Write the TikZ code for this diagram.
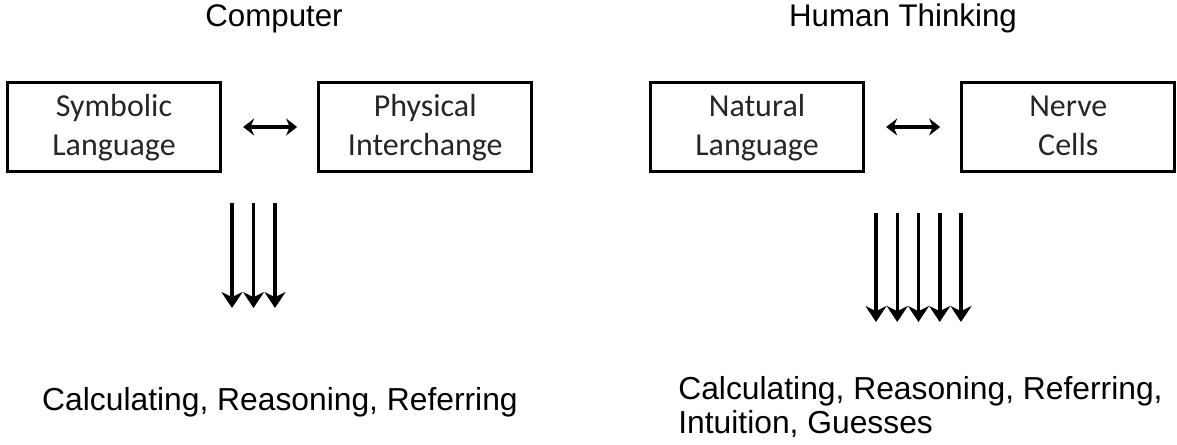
\documentclass[tikz,border=0pt]{standalone}
\usepackage{fontspec}
\usepackage{tikz}
\usetikzlibrary{positioning}
\usetikzlibrary{arrows.meta}
\newfontfamily\arialfont{Liberation Sans}
\newfontfamily\calibrifont{Carlito}

\begin{document}
\begin{tikzpicture}[x=0.02cm,y=-0.02cm,
  box/.style={draw,line width=1.9pt,minimum width=4.26cm,minimum height=1.79cm,inner sep=0pt,align=center,
    text height=35pt,text depth=3pt,font=\calibrifont\fontsize{18.2}{22.2}\selectfont,text=black!85},
  heading/.style={anchor=base,font=\arialfont\fontsize{17.8}{20}\selectfont},
  outcome/.style={align=left,inner sep=0pt,font=\arialfont\fontsize{18.1}{19.6}\selectfont},
  link/.style={{Stealth[length=0.22cm,width=0.34cm]}-{Stealth[length=0.22cm,width=0.34cm]},line width=2pt,
    shorten <=0.42cm,shorten >=0.4cm},
  flow/.style={-{Stealth[length=0.32cm,width=0.42cm]},line width=2pt}]
 \useasboundingbox (0,0) rectangle (1177,445);

 \node[heading] (comp) at (274,27) {Computer};
 \node[heading] (human) at (903,27) {Human Thinking};

 \node[box] (symb) at (114,127) {Symbolic\\Language};
 \node[box,right=1.9cm of symb] (phys) {Physical\\Interchange};
 \node[box] (natl) at (757,127) {Natural\\Language};
 \node[box,right=1.9cm of natl] (nerve) {Nerve\\Cells};

 \draw[link] (symb) -- (phys);
 \draw[link] (natl) -- (nerve);

 \foreach \k in {0,1,2} \coordinate (ctop\k) at (232+21.5*\k,203);
 \foreach \k in {0,1,2} \draw[flow] (ctop\k) -- ++(0,105);
 \foreach \k in {0,...,4} \coordinate (htop\k) at (876+21.25*\k,213);
 \foreach \k in {0,...,4} \draw[flow] (htop\k) -- ++(0,109);

 \node[outcome,anchor=base] (compres) at (280,411) {Calculating, Reasoning, Referring};
 \node[outcome,anchor=base west] (humanres) at (678,434) {Calculating, Reasoning, Referring,\\Intuition, Guesses};
\end{tikzpicture}
\end{document}
